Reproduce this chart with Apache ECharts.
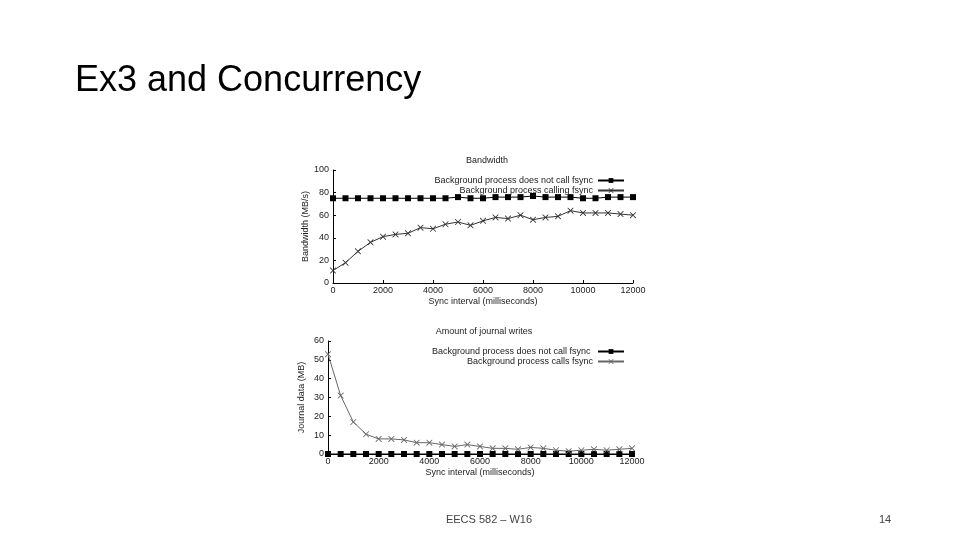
<!DOCTYPE html>
<html><head><meta charset="utf-8">
<script src="https://cdn.jsdelivr.net/npm/echarts@6/dist/echarts.min.js"></script>
<style>html,body{margin:0;background:#fff}#c{width:960px;height:540px}</style>
</head><body><div id="c"></div>
<script>
const xs = [0,500,1000,1500,2000,2500,3000,3500,4000,4500,5000,5500,6000,6500,7000,7500,8000,8500,9000,9500,10000,10500,11000,11500,12000];
const bwNoFsync = [75,75,75,75,75,75,75,75,75,75,76,75,75,76,76,76,77,76,76,76,75,75,76,76,76];
const bwFsync = [11,18,28,36,41,43,44,49,48,52,54,51,55,58,57,60,56,58,59,64,62,62,62,61,60];
const jrNoFsync = [0,0,0,0,0,0,0,0,0,0,0,0,0,0,0,0,0,0,0,0,0,0,0,0,0];
const jrFsync = [53,31,17,10.5,8,8,7.5,6,6,5,4,5,4,3,3,2.5,3.5,3,2,1.5,2,2.5,2,2.5,3];
const pair = (a)=>xs.map((x,i)=>[x,a[i]]);
const F='Liberation Sans, Arial, sans-serif';
const axX = (gi)=>({type:'value',gridIndex:gi,min:0,max:12000,interval:2000,name:'Sync interval (milliseconds)',nameLocation:'middle',nameGap:14,
  nameTextStyle:{fontSize:9,color:'#222',fontFamily:F},axisLine:{lineStyle:{color:'#000'}},axisTick:{inside:true,length:3,lineStyle:{color:'#000'}},
  axisLabel:{fontSize:9,color:'#222',margin:3,fontFamily:F,formatter:(v)=>String(v)},splitLine:{show:false}});
const axY = (gi,max,iv,name)=>({type:'value',gridIndex:gi,min:0,max:max,interval:iv,name:name,nameLocation:'middle',nameGap:22,
  nameTextStyle:{fontSize:9,color:'#222',fontFamily:F},axisLine:{show:true,lineStyle:{color:'#000'}},axisTick:{inside:true,length:3,lineStyle:{color:'#000'}},
  axisLabel:{fontSize:9,color:'#222',margin:4,fontFamily:F},splitLine:{show:false}});
const cross='path://M0,0L1,0L5,4L9,0L10,0L10,1L6,5L10,9L10,10L9,10L5,6L1,10L0,10L0,9L4,5L0,1Z';
const plus='path://M4.3,0L5.7,0L5.7,10L4.3,10Z';
const s=(name,gi,data,sym,color)=>({name,type:'line',xAxisIndex:gi,yAxisIndex:gi,data:pair(data),symbol:sym,symbolSize:6,
  lineStyle:{color,width:1},itemStyle:{color:color},animation:false});
const lg=(names,top)=>({data:names,right:330,top:top,orient:'vertical',align:'right',itemGap:1,itemWidth:26,itemHeight:6,
  textStyle:{fontSize:9,color:'#222',fontFamily:F}});
const opt={
  animation:false,
  title:[
    {text:'Ex3 and Concurrency',left:70,top:58,textStyle:{fontSize:36,fontWeight:'normal',color:'#000',fontFamily:F}},
    {text:'Bandwidth',left:482,textAlign:'center',top:151,textStyle:{fontSize:9,fontWeight:'normal',color:'#222',fontFamily:F}},
    {text:'Amount of journal writes',left:479,textAlign:'center',top:322,textStyle:{fontSize:9,fontWeight:'normal',color:'#222',fontFamily:F}},
    {text:'EECS 582 – W16',left:484,textAlign:'center',top:509,textStyle:{fontSize:11,fontWeight:'normal',color:'#444',fontFamily:F}},
    {text:'14',left:880,textAlign:'center',top:509,textStyle:{fontSize:11,fontWeight:'normal',color:'#444',fontFamily:F}}
  ],
  grid:[{left:333,top:170,width:300,height:113},{left:328,top:341,width:304,height:113}],
  xAxis:[axX(0),axX(1)],
  yAxis:[axY(0,100,20,'Bandwidth (MB/s)'),axY(1,60,10,'Journal data (MB)')],
  legend:[
    lg(['Background process does not call fsync','Background process calling fsync'],171),
    lg(['Background process does not call fsync ','Background process calls fsync'],342)
  ],
  series:[
    s('Background process does not call fsync',0,bwNoFsync,plus,'#000'),
    s('Background process calling fsync',0,bwFsync,cross,'#333'),
    s('Background process does not call fsync ',1,jrNoFsync,plus,'#000'),
    s('Background process calls fsync',1,jrFsync,cross,'#666')
  ]
};
echarts.init(document.getElementById('c')).setOption(opt);
</script></body></html>
